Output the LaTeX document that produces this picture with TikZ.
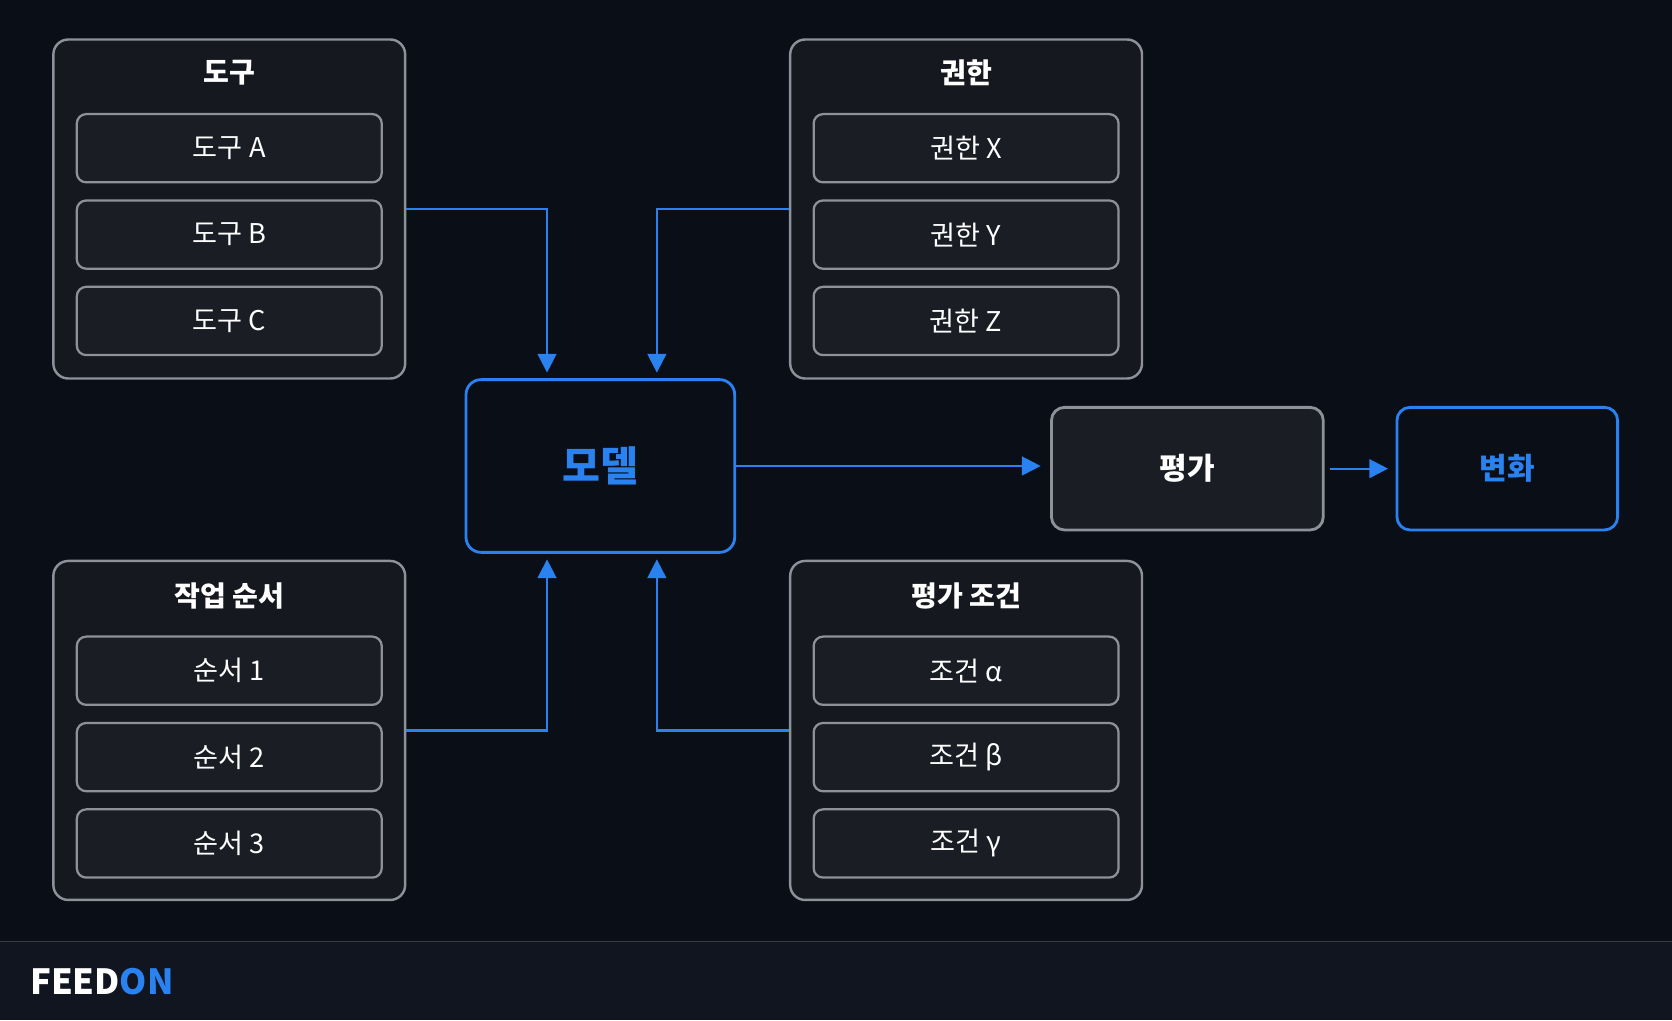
\documentclass[tikz,border=0pt]{standalone}
\usepackage{fontspec}
\setmainfont{Noto Sans CJK KR}
\usetikzlibrary{arrows.meta,calc}
\definecolor{bg}{HTML}{0A0E17}
\definecolor{foot}{HTML}{10151F}
\definecolor{boxfill}{HTML}{15181F}
\definecolor{itemfill}{HTML}{1A1D24}
\definecolor{bord}{HTML}{8E9199}
\definecolor{blu}{HTML}{2A82F0}
\begin{document}
\begin{tikzpicture}[x=0.02cm,y=-0.02cm,
 group/.style={draw=bord,line width=1.3pt,rounded corners=8pt,fill=boxfill,minimum width=6.6cm,minimum height=6.36cm},
 item/.style={draw=bord,line width=1.2pt,rounded corners=5pt,fill=itemfill,minimum width=5.72cm,minimum height=1.28cm,text=white,font=\fontsize{14.5}{16}\selectfont},
 ttl/.style={text=white,font=\bfseries\fontsize{15}{17}\selectfont},
 arr/.style={draw=blu,line width=1.2pt,-{Triangle[length=10pt,width=10pt]}}]
\useasboundingbox (0,0) rectangle (1568,957);
\fill[bg] (0,0) rectangle (1568,957);
\fill[foot] (0,883) rectangle (1568,957);
\draw[gray!40!bg,line width=0.8pt] (0,883) -- (1568,883);
\node[anchor=west,font=\bfseries\fontsize{18.5}{20}\selectfont] (logo) at (22,921) {\textcolor{white}{FEED}\textcolor{blu}{ON}};
% groups
\node[group] (tool) at (215,196) {};
\node[ttl] (toolT) at (215,68) {도구};
\node[item] (tA) at (215,139) {도구 A};
\node[item] (tB) at (215,220) {도구 B};
\node[item] (tC) at (215,301) {도구 C};
\node[group] (perm) at (906,196) {};
\node[ttl] (permT) at (906,68) {권한};
\node[item] (pX) at (906,139) {권한 X};
\node[item] (pY) at (906,220) {권한 Y};
\node[item] (pZ) at (906,301) {권한 Z};
\node[group] (seq) at (215,685) {};
\node[ttl] (seqT) at (215,559) {작업 순서};
\node[item] (s1) at (215,629) {순서 1};
\node[item] (s2) at (215,710) {순서 2};
\node[item] (s3) at (215,791) {순서 3};
\node[group] (cond) at (906,685) {};
\node[ttl] (condT) at (906,559) {평가 조건};
\node[item] (c1) at (906,629) {조건 α};
\node[item] (c2) at (906,710) {조건 β};
\node[item] (c3) at (906,791) {조건 γ};
% main nodes
\node[draw=blu,line width=1.5pt,rounded corners=8pt,fill=bg,minimum width=5.04cm,minimum height=3.24cm,text=blu,font=\bfseries\fontsize{22}{24}\selectfont] (model) at (563,437) {모델};
\node[draw=bord,line width=1.5pt,rounded corners=7pt,fill=itemfill,minimum width=5.1cm,minimum height=2.3cm,text=white,font=\bfseries\fontsize{16}{18}\selectfont] (eval) at (1113.5,439.5) {평가};
\node[draw=blu,line width=1.5pt,rounded corners=7pt,fill=bg,minimum width=4.14cm,minimum height=2.3cm,text=blu,font=\bfseries\fontsize{16}{18}\selectfont] (chg) at (1413.5,439.5) {변화};
% connectors
\draw[arr,shorten >=3pt] (tool.east) -| ([xshift=-1cm]model.north);
\draw[arr,shorten >=3pt] (perm.west) -| ([xshift=1.06cm]model.north);
\draw[arr,shorten >=3pt] (seq.east) -| ([xshift=-1cm]model.south);
\draw[arr,shorten >=3pt] (cond.west) -| ([xshift=1.06cm]model.south);
\draw[arr,shorten >=5pt] (model.east) -- (model.east -| eval.west);
\draw[arr,shorten >=4pt,shorten <=3pt] (eval.east) -- (chg.west);
\end{tikzpicture}
\end{document}
